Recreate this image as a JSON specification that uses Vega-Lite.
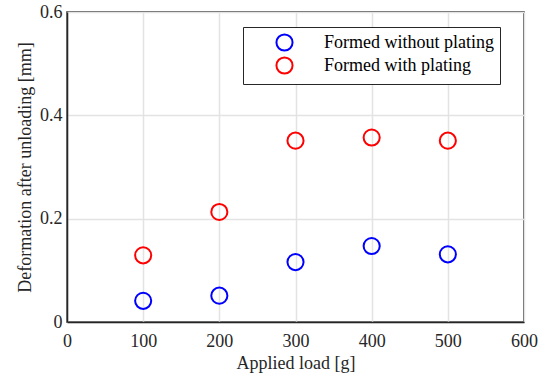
{
  "$schema": "https://vega.github.io/schema/vega-lite/v6.json",
  "width": 457,
  "height": 310,
  "autosize": {"type": "none"},
  "padding": {"left": 67, "top": 12, "right": 18, "bottom": 55},
  "background": "white",
  "config": {
    "font": "Liberation Serif",
    "view": {"stroke": "#262626", "strokeWidth": 1.5},
    "axis": {
      "labelFont": "Liberation Serif",
      "titleFont": "Liberation Serif",
      "labelFontSize": 18,
      "titleFontSize": 18,
      "labelColor": "#262626",
      "titleColor": "#262626",
      "titleFontWeight": "normal",
      "domainColor": "#262626",
      "domainWidth": 1.5,
      "gridColor": "#e3e3e3",
      "gridWidth": 1.5,
      "ticks": false,
      "labelFlush": false
    }
  },
  "data": {
    "values": [
      {"load": 100, "deformation": 0.041, "series": "Formed without plating"},
      {"load": 200, "deformation": 0.051, "series": "Formed without plating"},
      {"load": 300, "deformation": 0.116, "series": "Formed without plating"},
      {"load": 400, "deformation": 0.147, "series": "Formed without plating"},
      {"load": 500, "deformation": 0.131, "series": "Formed without plating"},
      {"load": 100, "deformation": 0.129, "series": "Formed with plating"},
      {"load": 200, "deformation": 0.213, "series": "Formed with plating"},
      {"load": 300, "deformation": 0.351, "series": "Formed with plating"},
      {"load": 400, "deformation": 0.357, "series": "Formed with plating"},
      {"load": 500, "deformation": 0.351, "series": "Formed with plating"}
    ]
  },
  "mark": {"type": "point", "shape": "circle", "filled": false, "size": 260, "strokeWidth": 2, "opacity": 1},
  "encoding": {
    "x": {
      "field": "load",
      "type": "quantitative",
      "scale": {"domain": [0, 600], "nice": false},
      "axis": {"values": [0, 100, 200, 300, 400, 500, 600], "title": "Applied load [g]", "labelPadding": 10, "titlePadding": 4, "labelFlush": false}
    },
    "y": {
      "field": "deformation",
      "type": "quantitative",
      "scale": {"domain": [0, 0.6], "nice": false},
      "axis": {"values": [0, 0.2, 0.4, 0.6], "format": "~g", "title": "Deformation after unloading [mm]", "labelPadding": 5, "titlePadding": 5, "labelFlush": false}
    },
    "color": {
      "field": "series",
      "type": "nominal",
      "scale": {"domain": ["Formed without plating", "Formed with plating"], "range": ["#0000ff", "#ff0000"]},
      "legend": {
        "title": null,
        "orient": "none",
        "legendX": 176,
        "legendY": 15,
        "fillColor": "white",
        "strokeColor": "#262626",
        "padding": 6,
        "symbolType": "circle",
        "symbolSize": 260,
        "symbolStrokeWidth": 2,
        "symbolFillColor": "transparent",
        "symbolOffset": 26,
        "labelOffset": 30,
        "labelFont": "Liberation Serif",
        "labelFontSize": 18,
        "labelColor": "#000000",
        "labelLimit": 300,
        "rowPadding": -2,
        "encode": {"legend": {"update": {"strokeWidth": {"value": 2}}}}
      }
    }
  }
}
